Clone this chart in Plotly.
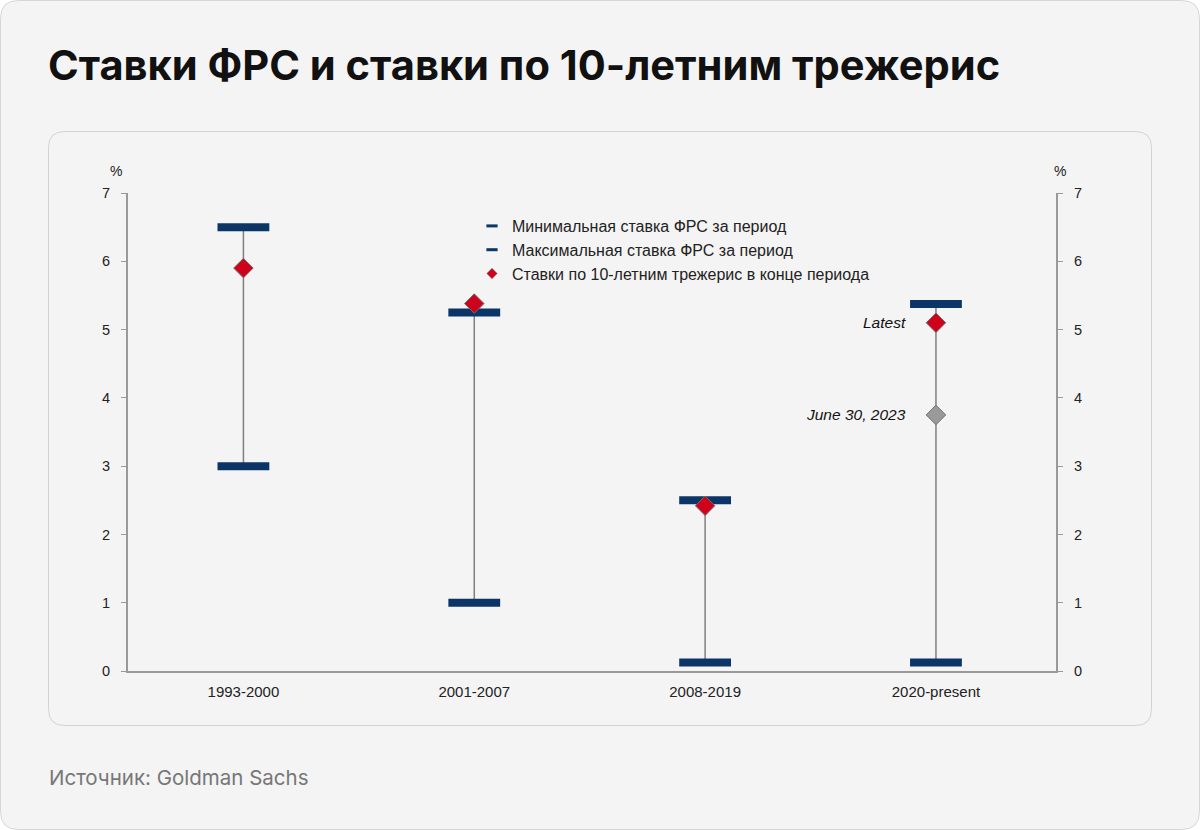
import plotly.graph_objects as go

# ---- data ----
periods = ["1993-2000", "2001-2007", "2008-2019", "2020-present"]
fed_min = [3.0, 1.0, 0.125, 0.125]
fed_max = [6.5, 5.25, 2.5, 5.375]
ust10_end = [5.9, 5.38, 2.42, 5.1]
june2023_period = ["2020-present"]
june2023_value = [3.75]
point_labels = ["Latest", "June 30, 2023"]
y_ticks = [0, 1, 2, 3, 4, 5, 6, 7]

legend_names = [
    "Минимальная ставка ФРС за период",
    "Максимальная ставка ФРС за период",
    "Ставки по 10-летним трежерис в конце периода",
]

title_text = "Ставки ФРС и ставки по 10-летним трежерис"
source_text = "Источник: Goldman Sachs"

# ---- geometry (pixels) ----
W, H = 1200, 830
L, R, T, B = 128, 1056, 193, 671


def px(x):
    return (x - L) / (R - L)


def py(y):
    return (B - y) / (B - T)


NAVY = "#0a3566"
RED = "#d0021b"
GREY_LINE = "#7f7f7f"
AXIS = "#999999"
FONT = "Liberation Sans, Arial, sans-serif"

fig = go.Figure()

# vertical range lines
lx, ly = [], []
for p, lo, hi in zip(periods, fed_min, fed_max):
    lx += [p, p, None]
    ly += [lo, hi, None]
fig.add_trace(go.Scatter(x=lx, y=ly, mode="lines", line=dict(color=GREY_LINE, width=1.5),
                         showlegend=False, hoverinfo="skip"))

bar_marker = dict(symbol="line-ew", size=37, color=NAVY, line=dict(color=NAVY, width=8))
fig.add_trace(go.Scatter(x=periods, y=fed_min, mode="markers", marker=bar_marker, showlegend=False))
fig.add_trace(go.Scatter(x=periods, y=fed_max, mode="markers", marker=bar_marker, showlegend=False))

# June 30, 2023 grey diamond
fig.add_trace(go.Scatter(x=june2023_period, y=june2023_value, mode="markers",
                         marker=dict(symbol="diamond", size=15, color="#9a9a9a",
                                     line=dict(color="#6e6e6e", width=1)),
                         showlegend=False))
# 10y treasury diamonds
fig.add_trace(go.Scatter(x=periods, y=ust10_end, mode="markers",
                         marker=dict(symbol="diamond", size=15, color=RED,
                                     line=dict(color="#6e6e6e", width=1)),
                         showlegend=False))

# legend-only traces
leg_bar = dict(symbol="line-ew", size=8, color=NAVY, line=dict(color=NAVY, width=3))
fig.add_trace(go.Scatter(x=[None], y=[None], mode="markers", marker=leg_bar, name=legend_names[0]))
fig.add_trace(go.Scatter(x=[None], y=[None], mode="markers", marker=leg_bar, name=legend_names[1]))
fig.add_trace(go.Scatter(x=[None], y=[None], mode="markers",
                         marker=dict(symbol="diamond", size=8, color=RED,
                                     line=dict(color="#6e6e6e", width=0.5)),
                         name=legend_names[2]))

# y2 dummy to show right axis
fig.add_trace(go.Scatter(x=[None], y=[None], yaxis="y2", showlegend=False))

# annotations for the last period points
fig.add_annotation(x=periods[3], y=ust10_end[3], text="<i>" + point_labels[0] + "</i>",
                   showarrow=False, xanchor="right", yanchor="middle", xshift=-28,
                   font=dict(family=FONT, size=15.5, color="#111"))
fig.add_annotation(x=june2023_period[0], y=june2023_value[0], text="<i>" + point_labels[1] + "</i>",
                   showarrow=False, xanchor="right", yanchor="middle", xshift=-28,
                   font=dict(family=FONT, size=15.5, color="#111"))

# "%" unit labels
fig.add_annotation(xref="paper", yref="paper", x=px(116), y=py(171), text="%", showarrow=False,
                   xanchor="center", yanchor="middle",
                   font=dict(family=FONT, size=14, color="#222"))
fig.add_annotation(xref="paper", yref="paper", x=px(1060), y=py(171), text="%", showarrow=False,
                   xanchor="center", yanchor="middle",
                   font=dict(family=FONT, size=14, color="#222"))

# title and source
fig.add_annotation(xref="paper", yref="paper", x=px(46), y=py(65), xanchor="left", yanchor="middle",
                   text="<b>" + title_text + "</b>", showarrow=False,
                   font=dict(family="Inter, sans-serif", size=41.6, color="#111"))
fig.add_annotation(xref="paper", yref="paper", x=px(47), y=py(777), xanchor="left", yanchor="middle",
                   text=source_text, showarrow=False,
                   font=dict(family="Inter, sans-serif", size=20.5, color="#777"))


def rrect(x0, y0, x1, y1, r):
    # rounded rect path in paper coords from pixel coords
    pts = [
        f"M{px(x0 + r)},{py(y0)}",
        f"L{px(x1 - r)},{py(y0)}",
        f"Q{px(x1)},{py(y0)} {px(x1)},{py(y0 + r)}",
        f"L{px(x1)},{py(y1 - r)}",
        f"Q{px(x1)},{py(y1)} {px(x1 - r)},{py(y1)}",
        f"L{px(x0 + r)},{py(y1)}",
        f"Q{px(x0)},{py(y1)} {px(x0)},{py(y1 - r)}",
        f"L{px(x0)},{py(y0 + r)}",
        f"Q{px(x0)},{py(y0)} {px(x0 + r)},{py(y0)}",
        "Z",
    ]
    return " ".join(pts)


fig.add_shape(type="path", xref="paper", yref="paper", path=rrect(0.5, 0.5, 1199.5, 829.5, 18),
              fillcolor="#f4f4f4", line=dict(color="#d6d6d6", width=1), layer="below")
fig.add_shape(type="path", xref="paper", yref="paper", path=rrect(48.5, 131.5, 1151.5, 725.5, 16),
              fillcolor="#f4f4f4", line=dict(color="#d2d2d2", width=1), layer="below")

ytick_font = dict(family=FONT, size=14.5, color="#222")
xtick_font = dict(family=FONT, size=15, color="#222")
fig.update_layout(
    width=W, height=H,
    margin=dict(l=L, r=W - R, t=T, b=H - B, pad=0),
    paper_bgcolor="white",
    plot_bgcolor="rgba(0,0,0,0)",
    showlegend=True,
    legend=dict(x=px(472), y=py(209), xanchor="left", yanchor="top",
                bgcolor="rgba(0,0,0,0)", font=dict(family=FONT, size=16, color="#222"),
                itemwidth=30, tracegroupgap=0),
    xaxis=dict(type="category", categoryorder="array", categoryarray=periods,
               range=[-0.5, 3.52], showgrid=False, zeroline=False,
               showline=True, linecolor=AXIS, linewidth=2, ticks="",
               tickfont=xtick_font, ticklabelstandoff=6, fixedrange=True),
    yaxis=dict(range=[0, 7], tickvals=y_ticks, showgrid=False, zeroline=False,
               showline=True, linecolor=AXIS, linewidth=2, ticks="outside",
               ticklen=5, tickcolor=AXIS, tickfont=ytick_font, ticklabelstandoff=8),
    yaxis2=dict(range=[0, 7], tickvals=y_ticks, overlaying="y", side="right",
                showgrid=False, zeroline=False, showline=True, linecolor=AXIS,
                linewidth=2, ticks="outside", ticklen=5, tickcolor=AXIS,
                tickfont=ytick_font, ticklabelstandoff=8),
)

fig.write_html("out.html")
